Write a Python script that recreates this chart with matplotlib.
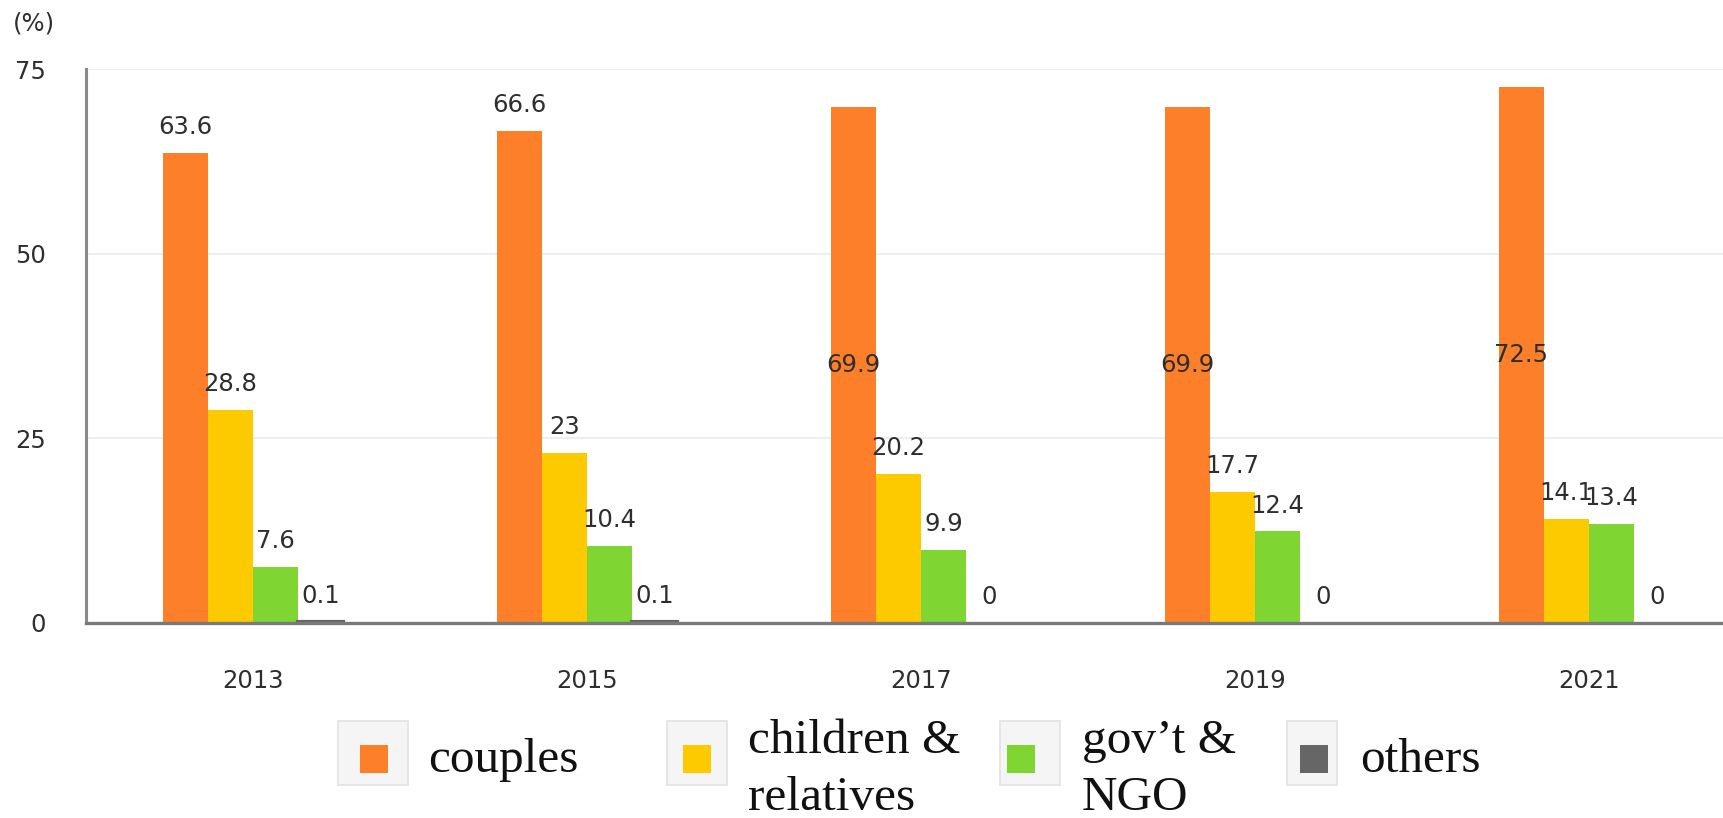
import matplotlib
matplotlib.use("Agg")
import matplotlib.pyplot as plt
from matplotlib.patches import Rectangle
import numpy as np

# ---------------- data ----------------
years = ["2013", "2015", "2017", "2019", "2021"]
series_names = ["couples", "children &\nrelatives", "gov\u2019t &\nNGO", "others"]
couples = [63.6, 66.6, 69.9, 69.9, 72.5]
children_relatives = [28.8, 23, 20.2, 17.7, 14.1]
govt_ngo = [7.6, 10.4, 9.9, 12.4, 13.4]
others = [0.1, 0.1, 0, 0, 0]
y_ticks = [0, 25, 50, 75]
y_unit = "(%)"

colors = ["#FD7F2A", "#FDCA00", "#7FD532", "#666666"]
series = [couples, children_relatives, govt_ngo, others]

# ---------------- figure ----------------
W, H = 1724, 818
fig = plt.figure(figsize=(W / 100, H / 100), dpi=100)
fig.patch.set_facecolor("white")


def fx(px):
    return px / W


def fy(py):
    return 1 - py / H


ax = fig.add_axes([fx(86), fy(623), 1 - fx(86), (623 - 69) / H])

x = np.arange(len(years))
bw = 0.135
offsets = [-1.5, -0.5, 0.5, 1.5]
label_font = dict(family="DejaVu Sans", size=17.5, color="#2E2E2E")

for vals, col, off in zip(series, colors, offsets):
    xs = x + off * bw
    if col == "#666666":
        lws = [3 if v > 0 else 0 for v in vals]
    else:
        lws = [0 for _ in vals]
    ax.bar(xs, vals, width=bw, color=col, edgecolor=col, linewidth=lws, zorder=2)
    for xi, v in zip(xs, vals):
        txt = f"{v:g}"
        if v > 68:
            ax.text(xi, v / 2, txt, ha="center", va="center",
                    zorder=4, **label_font)
        else:
            ax.annotate(txt, (xi, v), xytext=(0, 10), textcoords="offset points",
                        ha="center", va="bottom", zorder=4, **label_font)

ax.set_xlim(-0.5, (W - 253) / 334)
ax.set_ylim(0, 75)
ax.set_yticks(y_ticks)
ax.set_yticklabels([str(t) for t in y_ticks], **label_font)
ax.set_xticks(x)
ax.set_xticklabels(years, **label_font)
ax.tick_params(axis="y", length=0, pad=29)
ax.tick_params(axis="x", length=0, pad=33)

ax.grid(axis="y", color="#EBEBEB", linewidth=1.2, zorder=0)
ax.set_axisbelow(True)
for s in ["top", "right"]:
    ax.spines[s].set_visible(False)
ax.spines["left"].set_color("#8A8A8A")
ax.spines["left"].set_linewidth(2.2)
ax.spines["bottom"].set_color("#7A7A7A")
ax.spines["bottom"].set_linewidth(2.4)
ax.spines["bottom"].set_zorder(5)
ax.spines["left"].set_zorder(5)

fig.text(fx(13), fy(24), y_unit, ha="left", va="center", **label_font)

# ---------------- legend (manual) ----------------
box_x = [(338, 408), (667, 727), (1000, 1060), (1287, 1337)]
sq_x = [(360, 388), (683, 711), (1007, 1035), (1300, 1328)]
text_x = [428, 748, 1082, 1360]
box_y = (721, 785)
sq_y = (745, 773)
leg_font = dict(family=["Liberation Serif", "DejaVu Serif"], size=35.5, color="#111111")

for name, col, (bx0, bx1), (sx0, sx1), tx in zip(series_names, colors, box_x, sq_x, text_x):
    fig.patches.append(Rectangle((fx(bx0), fy(box_y[1])), fx(bx1 - bx0), (box_y[1] - box_y[0]) / H,
                                 transform=fig.transFigure, facecolor="#F5F5F5",
                                 edgecolor="#E2E2E2", linewidth=1.2))
    fig.patches.append(Rectangle((fx(sx0), fy(sq_y[1])), fx(sx1 - sx0), (sq_y[1] - sq_y[0]) / H,
                                 transform=fig.transFigure, facecolor=col, edgecolor="none"))
    lines = name.split("\n")
    if len(lines) == 1:
        fig.text(fx(tx), fy(772), lines[0], ha="left", va="baseline", **leg_font)
    else:
        for ln, by in zip(lines, [753, 810]):
            fig.text(fx(tx), fy(by), ln, ha="left", va="baseline", **leg_font)

fig.savefig("out.png", dpi=100, facecolor="white")
